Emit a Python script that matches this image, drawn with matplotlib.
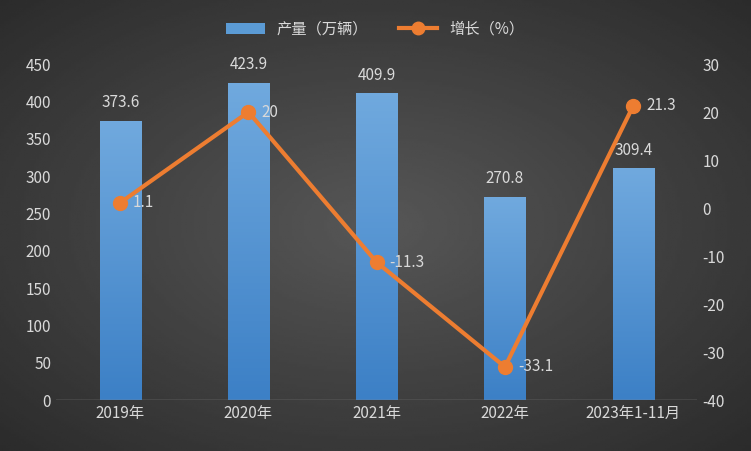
import numpy as np
import matplotlib.pyplot as plt
from matplotlib.lines import Line2D
from matplotlib.patches import Patch
from matplotlib.colors import LinearSegmentedColormap

plt.rcParams['font.family'] = ['Noto Sans CJK SC', 'DejaVu Sans']
plt.rcParams['axes.unicode_minus'] = False

categories = ['2019年', '2020年', '2021年', '2022年', '2023年1-11月']
output = [373.6, 423.9, 409.9, 270.8, 309.4]
growth = [1.1, 20, -11.3, -33.1, 21.3]
growth_labels = ['1.1', '20', '-11.3', '-33.1', '21.3']

txt = '#d9d9d9'
fig = plt.figure(figsize=(7.51, 4.51), dpi=100)

# background gradient
bg = fig.add_axes([0, 0, 1, 1], zorder=-10)
yy, xx = np.mgrid[-1:1:200j, -1:1:300j]
r = np.sqrt(xx**2 + yy**2)
bg.imshow(0.34 - 0.12 * r, cmap='gray', vmin=0, vmax=1, aspect='auto', extent=[0, 1, 0, 1])
bg.axis('off')

ax = fig.add_axes([0.0746, 0.113, 0.854, 0.745])
ax.patch.set_alpha(0)
x = np.arange(len(categories))
w = 0.32
grad = np.linspace(0, 1, 100).reshape(-1, 1)
cm = LinearSegmentedColormap.from_list('b', ['#3c80c6', '#70a9de'])
for xi, v in zip(x, output):
    ax.imshow(grad, cmap=cm, origin='lower', aspect='auto',
              extent=[xi - w / 2, xi + w / 2, 0, v], zorder=2)
    ax.text(xi, v + 14, f'{v}', ha='center', va='bottom', color=txt, fontsize=11)
ax.set_xlim(-0.5, len(categories) - 0.5)
ax.set_ylim(0, 450)
ax.set_yticks(range(0, 451, 50))
ax.set_xticks(x)
ax.set_xticklabels(categories)
ax.tick_params(colors=txt, labelsize=11, length=0)
for s in ax.spines.values():
    s.set_visible(False)
ax.axhline(0, color='#8a8a8a', lw=1, zorder=3)

ax2 = ax.twinx()
ax2.plot(x, growth, color='#ed7d31', lw=3, marker='o', ms=10, zorder=5)
for xi, g, lab in zip(x, growth, growth_labels):
    ax2.text(xi + 0.1, g, lab, ha='left', va='center', color=txt, fontsize=11)
ax2.set_ylim(-40, 30)
ax2.set_yticks(range(-40, 31, 10))
ax2.tick_params(colors=txt, labelsize=11, length=0)
for s in ax2.spines.values():
    s.set_visible(False)

handles = [Patch(facecolor='#5b9bd5', label='产量（万辆）'),
           Line2D([], [], color='#ed7d31', lw=3, marker='o', ms=9, label='增长（%）')]
fig.legend(handles=handles, loc='upper center', bbox_to_anchor=(0.5, 0.985), ncol=2,
           frameon=False, labelcolor=txt, fontsize=11, handlelength=2.5)

fig.savefig('out.png', dpi=100)
